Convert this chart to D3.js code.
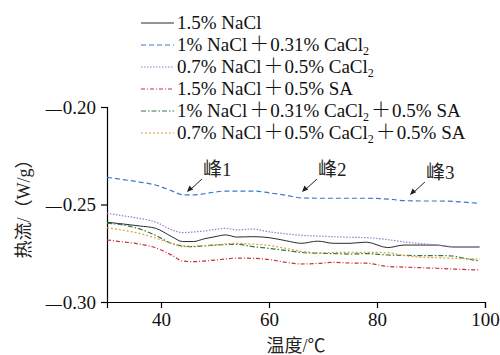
<!DOCTYPE html>
<html>
<head>
<meta charset="utf-8">
<script src="https://cdn.jsdelivr.net/npm/d3@7"></script>
<style>
	body { margin: 0; background: #fff; }
	svg { display: block; }
</style>
</head>
<body>
<svg id="chart" width="500" height="355"></svg>
<script>
// Temperature grid (°C) shared by all series
let temps = [30, 33, 36, 39, 42, 44, 46, 48, 50, 52, 54, 57, 60, 63, 66, 69, 72, 75, 78, 82, 85, 88, 91, 94, 96, 99]

// Heat flow (W/g)
let nacl = [-0.2591, -0.2600, -0.2610, -0.2622, -0.2665, -0.2690, -0.2690, -0.2676, -0.2665, -0.2656, -0.2667, -0.2665, -0.2670, -0.2685, -0.2699, -0.2688, -0.2699, -0.2699, -0.2693, -0.2721, -0.2708, -0.2708, -0.2708, -0.2718, -0.2718, -0.2718]
let naclCa031 = [-0.2361, -0.2372, -0.2385, -0.2400, -0.2430, -0.2450, -0.2451, -0.2445, -0.2436, -0.2431, -0.2431, -0.2431, -0.2440, -0.2452, -0.2466, -0.2468, -0.2468, -0.2468, -0.2468, -0.2472, -0.2480, -0.2482, -0.2482, -0.2484, -0.2488, -0.2494]
let naclCa05 = [-0.2545, -0.2558, -0.2571, -0.2590, -0.2630, -0.2644, -0.2641, -0.2636, -0.2628, -0.2622, -0.2630, -0.2626, -0.2640, -0.2650, -0.2658, -0.2662, -0.2665, -0.2668, -0.2670, -0.2680, -0.2692, -0.2700, -0.2708, -0.2716, -0.2718, -0.2718]
let naclSa = [-0.2682, -0.2692, -0.2703, -0.2722, -0.2760, -0.2790, -0.2793, -0.2790, -0.2785, -0.2779, -0.2775, -0.2776, -0.2782, -0.2796, -0.2805, -0.2802, -0.2797, -0.2800, -0.2801, -0.2818, -0.2821, -0.2824, -0.2827, -0.2831, -0.2833, -0.2836]
let naclCa031Sa = [-0.2596, -0.2605, -0.2625, -0.2658, -0.2700, -0.2712, -0.2716, -0.2712, -0.2708, -0.2705, -0.2704, -0.2716, -0.2725, -0.2735, -0.2746, -0.2750, -0.2752, -0.2754, -0.2752, -0.2759, -0.2761, -0.2762, -0.2762, -0.2764, -0.2775, -0.2790]
let naclCa05Sa = [-0.2619, -0.2632, -0.2648, -0.2672, -0.2700, -0.2716, -0.2714, -0.2711, -0.2708, -0.2702, -0.2699, -0.2703, -0.2710, -0.2724, -0.2740, -0.2748, -0.2746, -0.2745, -0.2745, -0.2747, -0.2762, -0.2770, -0.2773, -0.2776, -0.2778, -0.2780]

// Legend labels, "_2" marks a subscript 2
let labels = [
	"1.5% NaCl",
	"1% NaCl＋0.31% CaCl_2",
	"0.7% NaCl＋0.5% CaCl_2",
	"1.5% NaCl＋0.5% SA",
	"1% NaCl＋0.31% CaCl_2＋0.5% SA",
	"0.7% NaCl＋0.5% CaCl_2＋0.5% SA"
]
let xTicks = [40, 60, 80, 100]
let yTicks = [-0.30, -0.25, -0.20]

// Peaks marked on the CaCl2 curve
let peaks = [
	{ label: "峰", num: "1", t: 44.8, v: -0.2436 },
	{ label: "峰", num: "2", t: 66.1, v: -0.2436 },
	{ label: "峰", num: "3", t: 86.1, v: -0.2451 }
]

let series = [nacl, naclCa031, naclCa05, naclSa, naclCa031Sa, naclCa05Sa]
let styles = [
	{ color: "#2b2b2b", dash: null, width: 1 },
	{ color: "#3a78c8", dash: "5,3", width: 1.2 },
	{ color: "#9a7fd2", dash: "1.5,1.5", width: 1.2 },
	{ color: "#c9303c", dash: "4,2,1,2", width: 1.2 },
	{ color: "#2f7a40", dash: "5,2,1.5,2", width: 1.2 },
	{ color: "#e2a132", dash: "2,2", width: 1.2 }
]

let fontFamily = "'Liberation Serif', 'Noto Sans CJK SC', serif"
let cjkFamily = "'Noto Sans CJK SC', sans-serif"
let fontSize = 19

let svg = d3.select("#chart")
let margin = { left: 107, right: 15, top: 107, bottom: 53 }
let width = 500 - margin.left - margin.right
let height = 355 - margin.top - margin.bottom

let x = d3.scaleLinear().domain([30, 100]).range([margin.left, margin.left + width])
let y = d3.scaleLinear().domain([-0.30, -0.20]).range([margin.top + height, margin.top])

// Axes
svg.append("g")
	.attr("transform", `translate(0, ${margin.top + height})`)
	.call(d3.axisBottom(x).tickValues(xTicks).tickSizeOuter(0).tickSize(6).tickPadding(5))
let yAxis = svg.append("g")
	.attr("transform", `translate(${margin.left}, 0)`)
	.call(d3.axisLeft(y).tickValues(yTicks).tickSizeOuter(0).tickSize(6).tickPadding(5)
		.tickFormat(""))

svg.selectAll(".domain, .tick line").attr("stroke", "#000").attr("stroke-width", 1.2)
svg.selectAll(".tick text")
	.style("font-family", fontFamily)
	.style("font-size", `${fontSize}px`)
	.attr("fill", "#111")

// y tick labels: long minus dash then the number
let yLab = yAxis.selectAll(".tick text")
yLab.append("tspan")
	.style("font-size", "16px")
	.text("—")
yLab.append("tspan")
	.attr("dx", 1)
	.text(d => Math.abs(d).toFixed(2))

// Axis titles
svg.append("text")
	.attr("x", margin.left + width / 2)
	.attr("y", 352)
	.attr("text-anchor", "middle")
	.style("font-family", fontFamily)
	.style("font-size", "18px")
	.attr("fill", "#222")
	.text("温度/℃")
svg.append("text")
	.attr("transform", `translate(30, ${margin.top + height / 2}) rotate(-90)`)
	.attr("text-anchor", "middle")
	.style("font-family", fontFamily)
	.style("font-size", "18px")
	.attr("fill", "#222")
	.text("热流/（W/g）")

// Curves
let line = d3.line()
	.x((d, i) => x(temps[i]))
	.y(d => y(d))
	.curve(d3.curveMonotoneX)
svg.append("g")
	.selectAll("path")
	.data(series)
	.join("path")
	.attr("d", line)
	.attr("fill", "none")
	.attr("stroke", (d, i) => styles[i].color)
	.attr("stroke-width", (d, i) => styles[i].width)
	.attr("stroke-dasharray", (d, i) => styles[i].dash)

// Peak annotations
let notes = svg.append("g")
	.selectAll("g")
	.data(peaks)
	.join("g")
	.attr("transform", d => `translate(${x(d.t)}, ${y(d.v)})`)
notes.append("line")
	.attr("x1", 15).attr("y1", -13)
	.attr("x2", 2).attr("y2", -1)
	.attr("stroke", "#222")
	.attr("stroke-width", 1)
notes.append("path")
	.attr("d", "M0,0 L2.6,-6.4 L6.2,-2.6 Z")
	.attr("fill", "#222")
// tiny rotation keeps the CJK glyph in greyscale antialiasing
notes.append("text")
	.attr("transform", "translate(16, -16) rotate(0.01)")
	.style("font-family", fontFamily)
	.style("font-size", `${fontSize}px`)
	.attr("fill", "#222")
	.text(d => d.label + d.num)

// Legend
let rowY = i => 23 + i * 22
let legend = svg.append("g")
	.selectAll("g")
	.data(labels)
	.join("g")
	.attr("transform", (d, i) => `translate(141, ${rowY(i)})`)
legend.append("line")
	.attr("x1", 0).attr("x2", 33)
	.attr("stroke", (d, i) => styles[i].color)
	.attr("stroke-width", (d, i) => styles[i].width)
	.attr("stroke-dasharray", (d, i) => styles[i].dash)
legend.append("text")
	.attr("x", 36)
	.attr("y", 6)
	.style("font-family", fontFamily)
	.style("font-size", `${fontSize}px`)
	.attr("fill", "#111")
	.each(function(d) {
		// Split into plain text, wide plus signs and subscripts
		let t = d3.select(this)
		let sub = false
		let afterPlus = false
		d.split(/(＋|_2)/).filter(s => s.length).forEach(s => {
			let span = t.append("tspan")
			let dy = sub ? -4 : 0
			sub = false
			if (s === "_2") {
				span.attr("dy", 4).style("font-size", "12px").text("2")
				sub = true
			} else if (s === "＋") {
				span.attr("dy", dy).attr("dx", 2)
					.style("font-family", cjkFamily)
					.style("font-weight", 300)
					.style("font-size", "20px")
					.text("＋")
				afterPlus = true
			} else {
				span.attr("dy", dy).attr("dx", afterPlus ? 1 : 0).text(s)
				afterPlus = false
			}
		})
	})
</script>
</body>
</html>
